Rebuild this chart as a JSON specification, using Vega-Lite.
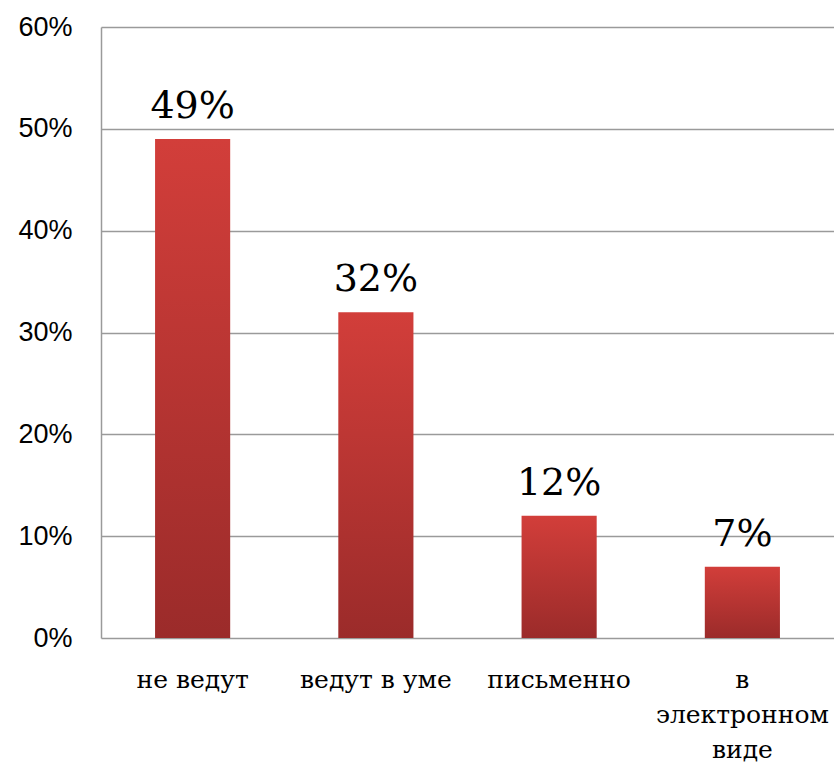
{
  "$schema": "https://vega.github.io/schema/vega-lite/v6.json",
  "autosize": "none",
  "width": 733,
  "height": 611,
  "padding": {"left": 101, "top": 27, "right": 0, "bottom": 125},
  "background": "white",
  "data": {"values": [
    {"category": "не ведут", "value": 0.49, "label": "49%"},
    {"category": "ведут в уме", "value": 0.32, "label": "32%"},
    {"category": "письменно", "value": 0.12, "label": "12%"},
    {"category": "в электронном виде", "value": 0.07, "label": "7%"}
  ]},
  "config": {
    "view": {"stroke": null},
    "axis": {"domain": false, "ticks": false}
  },
  "encoding": {
    "x": {
      "field": "category", "type": "nominal", "sort": null,
      "scale": {"paddingInner": 0.59, "paddingOuter": 0.295},
      "axis": {
        "title": null, "labelAngle": 0, "labelLimit": 0,
        "labelFont": "DejaVu Serif", "labelFontSize": 25, "labelColor": "black",
        "labelBaseline": "alphabetic", "labelPadding": 49, "labelLineHeight": 35,
        "labelExpr": "datum.label == 'в электронном виде' ? ['в', 'электронном', 'виде'] : datum.label"
      }
    },
    "y": {
      "field": "value", "type": "quantitative",
      "scale": {"domain": [0, 0.6]},
      "axis": {
        "title": null, "format": ".0%", "values": [0, 0.1, 0.2, 0.3, 0.4, 0.5, 0.6],
        "labelFont": "Liberation Sans", "labelFontSize": 27, "labelColor": "black",
        "labelPadding": 29,
        "grid": true, "gridColor": "#9a9a9a", "gridWidth": 1.5,
        "domain": true, "domainColor": "#9a9a9a", "domainWidth": 1.5
      }
    }
  },
  "layer": [
    {
      "mark": {
        "type": "bar",
        "color": {
          "gradient": "linear", "x1": 0, "y1": 0, "x2": 0, "y2": 1,
          "stops": [
            {"offset": 0, "color": "#d23e3a"},
            {"offset": 1, "color": "#9b2b2a"}
          ]
        }
      }
    },
    {
      "mark": {
        "type": "text", "font": "DejaVu Serif", "fontSize": 38,
        "color": "black", "baseline": "alphabetic", "dy": -21
      },
      "encoding": {"text": {"field": "label"}}
    }
  ]
}
